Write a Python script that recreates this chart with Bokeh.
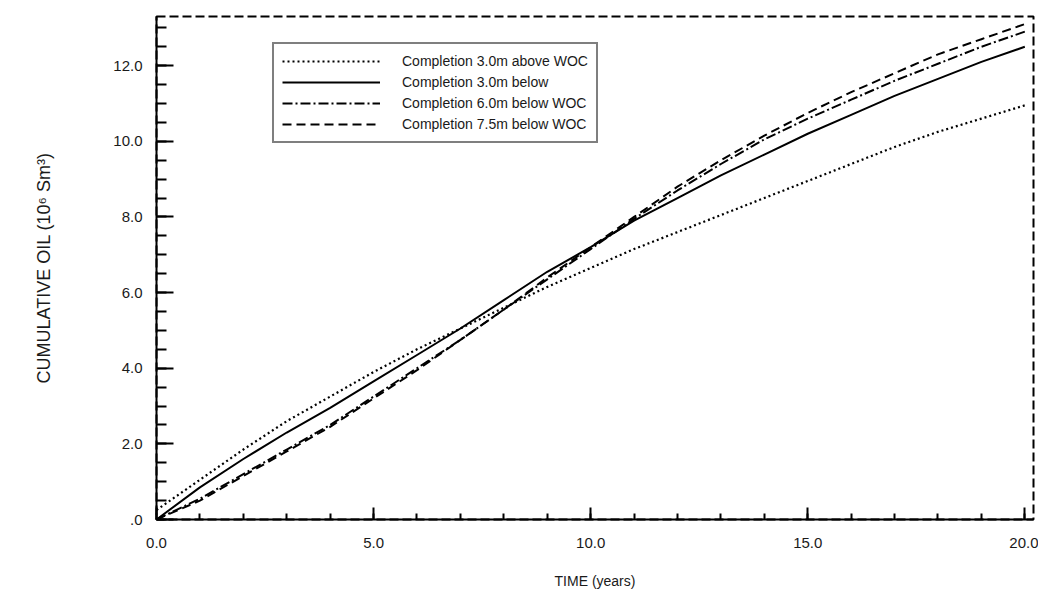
from bokeh.plotting import figure
from bokeh.models import Range1d, FixedTicker, Legend, LegendItem
from bokeh.embed import file_html
from bokeh.resources import INLINE

# ---- data ----
years = [0, 1, 2, 3, 4, 5, 6, 7, 8, 9, 10, 11, 12, 13, 14, 15, 16, 17, 18, 19, 20]
above_3m = [0.25, 1.05, 1.85, 2.6, 3.25, 3.9, 4.5, 5.05, 5.6, 6.15, 6.65, 7.15, 7.6, 8.05, 8.5,
            8.95, 9.4, 9.85, 10.25, 10.6, 10.95]
below_3m = [0.0, 0.85, 1.6, 2.3, 2.95, 3.65, 4.35, 5.05, 5.8, 6.55, 7.2, 7.9, 8.5, 9.1, 9.65,
            10.2, 10.7, 11.2, 11.65, 12.1, 12.5]
below_6m = [0.0, 0.55, 1.2, 1.85, 2.5, 3.25, 4.0, 4.75, 5.55, 6.35, 7.15, 7.95, 8.7, 9.4, 10.05,
            10.6, 11.1, 11.6, 12.05, 12.5, 12.9]
below_7_5m = [0.0, 0.5, 1.15, 1.8, 2.45, 3.2, 3.95, 4.75, 5.55, 6.4, 7.2, 8.0, 8.8, 9.5, 10.15,
              10.75, 11.3, 11.8, 12.3, 12.7, 13.1]
series_labels = ["Completion 3.0m above WOC", "Completion 3.0m below",
                 "Completion 6.0m below WOC", "Completion 7.5m below WOC"]
x_ticks = [0, 5, 10, 15, 20]
x_tick_labels = ["0.0", "5.0", "10.0", "15.0", "20.0"]
y_ticks = [0, 2, 4, 6, 8, 10, 12]
y_tick_labels = [".0", "2.0", "4.0", "6.0", "8.0", "10.0", "12.0"]
x_minor = [v for v in range(0, 21)]
y_minor = [v * 0.5 for v in range(0, 27)]

FONT = "Liberation Sans"

p = figure(width=1038, height=598, output_backend="svg", toolbar_location=None,
           x_range=Range1d(0, 20.2), y_range=Range1d(0, 13.3))
p.min_border_left = 156
p.min_border_right = 5
p.min_border_top = 16
p.min_border_bottom = 79
p.xgrid.visible = False
p.ygrid.visible = False
p.outline_line_color = "black"
p.outline_line_width = 2
p.outline_line_dash = "9 4"
p.background_fill_color = "white"
p.border_fill_color = "white"

for ax in (p.xaxis[0], p.yaxis[0]):
    ax.axis_line_width = 2
    ax.axis_line_color = "black"
    ax.major_tick_out = 0
    ax.minor_tick_out = 0
    ax.major_tick_line_width = 2
    ax.minor_tick_line_width = 2
    ax.major_label_text_font = FONT
    ax.major_label_text_font_size = "15px"
    ax.major_label_text_color = "#1a1a1a"
    ax.axis_label_text_font = FONT
    ax.axis_label_text_font_size = "14px"
    ax.axis_label_text_font_style = "normal"
    ax.axis_label_text_color = "#1a1a1a"

p.xaxis.ticker = FixedTicker(ticks=x_ticks, minor_ticks=x_minor)
p.xaxis.major_label_overrides = dict(zip(x_ticks, x_tick_labels))
p.xaxis.major_tick_in = 12
p.xaxis.minor_tick_in = 6
p.xaxis.major_label_standoff = 18
p.xaxis.axis_label = "TIME (years)"
p.xaxis.axis_label_standoff = 22

p.yaxis.ticker = FixedTicker(ticks=y_ticks, minor_ticks=y_minor)
p.yaxis.major_label_overrides = dict(zip(y_ticks, y_tick_labels))
p.yaxis.major_tick_in = 17
p.yaxis.minor_tick_in = 10
p.yaxis.major_label_standoff = 14
p.yaxis.axis_label = "CUMULATIVE OIL (10\u2076 Sm\u00b3)"
p.yaxis.axis_label_text_font_size = "18px"
p.yaxis.axis_label_standoff = 56

r1 = p.line(years, above_3m, line_color="black", line_width=2.2, line_dash="2 3")
r2 = p.line(years, below_3m, line_color="black", line_width=2)
r3 = p.line(years, below_6m, line_color="black", line_width=2, line_dash="10 3 2 3")
r4 = p.line(years, below_7_5m, line_color="black", line_width=2, line_dash="9 5")

legend = Legend(items=[LegendItem(label=series_labels[0], renderers=[r1]),
                       LegendItem(label=series_labels[1], renderers=[r2]),
                       LegendItem(label=series_labels[2], renderers=[r3]),
                       LegendItem(label=series_labels[3], renderers=[r4])],
                location=(116, 376))
legend.border_line_color = "black"
legend.border_line_width = 2
legend.background_fill_color = "white"
legend.background_fill_alpha = 1.0
legend.label_text_font = FONT
legend.label_text_font_size = "14px"
legend.label_text_color = "#1a1a1a"
legend.glyph_width = 98
legend.glyph_height = 18
legend.label_standoff = 22
legend.label_height = 18
legend.spacing = 3
legend.padding = 8
legend.margin = 0
p.add_layout(legend)

open("out.html", "w").write(file_html(p, INLINE))
